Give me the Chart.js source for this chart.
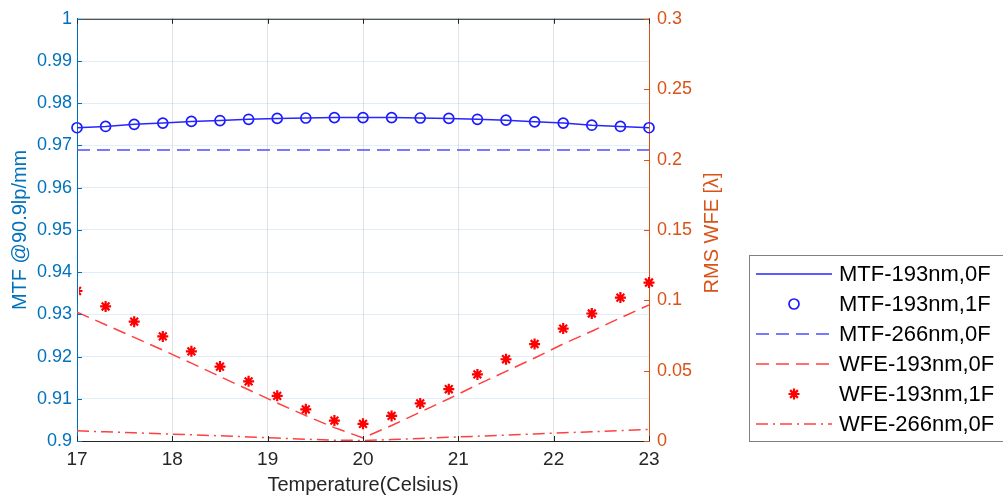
<!DOCTYPE html>
<html>
<head>
<meta charset="utf-8">
<script src="https://cdn.jsdelivr.net/npm/chart.js@4"></script>
<style>
  html, body { margin: 0; padding: 0; background: #fff; }
  canvas { display: block; }
</style>
</head>
<body>
<canvas id="chart" width="1003" height="497"></canvas>
<script>
// temperature samples (Celsius)
const temps = [17.0, 17.3, 17.6, 17.9, 18.2, 18.5, 18.8, 19.1, 19.4, 19.7, 20.0,
               20.3, 20.6, 20.9, 21.2, 21.5, 21.8, 22.1, 22.4, 22.7, 23.0];

// left axis: MTF @90.9lp/mm
const mtf193_0F = [0.9742, 0.9745, 0.9750, 0.9753, 0.9757, 0.9759, 0.9762, 0.9764, 0.9765, 0.9766, 0.9766,
                   0.9766, 0.9765, 0.9764, 0.9762, 0.9760, 0.9756, 0.9753, 0.9748, 0.9745, 0.9742];
const mtf193_1F = [0.9742, 0.9745, 0.9750, 0.9753, 0.9757, 0.9759, 0.9762, 0.9764, 0.9765, 0.9766, 0.9766,
                   0.9766, 0.9765, 0.9764, 0.9762, 0.9760, 0.9756, 0.9753, 0.9748, 0.9745, 0.9742];
const mtf266_0F = [0.9689, 0.9689, 0.9689, 0.9689, 0.9689, 0.9689, 0.9689, 0.9689, 0.9689, 0.9689, 0.9689,
                   0.9689, 0.9689, 0.9689, 0.9689, 0.9689, 0.9689, 0.9689, 0.9689, 0.9689, 0.9689];

// right axis: RMS WFE [λ]
const wfe193_0F = [0.0916, 0.0826, 0.0736, 0.0646, 0.0553, 0.0458, 0.0364, 0.0270, 0.0180, 0.0095, 0.0022,
                   0.0110, 0.0205, 0.0300, 0.0400, 0.0495, 0.0590, 0.0690, 0.0780, 0.0875, 0.0967];
const wfe193_1F = [0.1066, 0.0956, 0.0848, 0.0743, 0.0637, 0.0529, 0.0424, 0.0321, 0.0225, 0.0145, 0.0122,
                   0.0178, 0.0267, 0.0368, 0.0473, 0.0581, 0.0689, 0.0799, 0.0906, 0.1019, 0.1126];
const wfe266_0F = [0.0072, 0.0065, 0.0058, 0.0051, 0.0044, 0.0037, 0.0029, 0.0021, 0.0013, 0.0006, 0.0004,
                   0.0010, 0.0018, 0.0026, 0.0034, 0.0042, 0.0050, 0.0058, 0.0066, 0.0074, 0.0082];

const xTicks = [17, 18, 19, 20, 21, 22, 23];

const BLUE_AX = '#0072BD';
const ORANGE_AX = '#D95319';
const DARK = '#262626';
const FONT = '"Liberation Sans", Arial, sans-serif';

Chart.defaults.font.family = FONT;

const pts = ys => temps.map((t, i) => ({ x: t, y: ys[i] }));

// MATLAB style ticks point into the plot, plus the top box line
const innerTicks = {
  id: 'innerTicks',
  afterDatasetsDraw(chart) {
    const { ctx, chartArea: a, scales } = chart;
    ctx.save();
    ctx.lineWidth = 1;
    ctx.strokeStyle = DARK;
    ctx.beginPath();
    ctx.moveTo(a.left, a.top + 0.5);
    ctx.lineTo(a.right, a.top + 0.5);
    scales.x.ticks.forEach(t => {
      const px = Math.round(scales.x.getPixelForValue(t.value)) + 0.5;
      ctx.moveTo(px, a.bottom); ctx.lineTo(px, a.bottom - 5);
      ctx.moveTo(px, a.top); ctx.lineTo(px, a.top + 5);
    });
    ctx.stroke();

    ctx.strokeStyle = BLUE_AX;
    ctx.beginPath();
    scales.y.ticks.forEach(t => {
      const py = Math.round(scales.y.getPixelForValue(t.value)) + 0.5;
      ctx.moveTo(a.left, py); ctx.lineTo(a.left + 5, py);
    });
    ctx.stroke();

    ctx.strokeStyle = ORANGE_AX;
    ctx.beginPath();
    scales.y2.ticks.forEach(t => {
      const py = Math.round(scales.y2.getPixelForValue(t.value)) + 0.5;
      ctx.moveTo(a.right, py); ctx.lineTo(a.right - 5, py);
    });
    ctx.stroke();
    ctx.restore();
  }
};

// right axis title reads bottom-to-top like MATLAB's yyaxis right label
const rightTitle = {
  id: 'rightTitle',
  afterDraw(chart) {
    const { ctx, chartArea: a } = chart;
    ctx.save();
    ctx.translate(712, (a.top + a.bottom) / 2 + 3);
    ctx.rotate(-Math.PI / 2);
    ctx.fillStyle = ORANGE_AX;
    ctx.font = '20px ' + FONT;
    ctx.textAlign = 'center';
    ctx.textBaseline = 'middle';
    ctx.fillText('RMS WFE [λ]', 0, 0);
    ctx.restore();
  }
};

function drawMarker(ctx, style, x, y, r) {
  ctx.beginPath();
  if (style === 'circle') {
    ctx.arc(x, y, r, 0, Math.PI * 2);
  } else {
    const d = r * Math.SQRT1_2;
    ctx.moveTo(x - r, y); ctx.lineTo(x + r, y);
    ctx.moveTo(x, y - r); ctx.lineTo(x, y + r);
    ctx.moveTo(x - d, y - d); ctx.lineTo(x + d, y + d);
    ctx.moveTo(x - d, y + d); ctx.lineTo(x + d, y - d);
  }
  ctx.stroke();
}

const legendBox = {
  id: 'legendBox',
  afterDraw(chart) {
    const { ctx } = chart;
    ctx.save();
    ctx.fillStyle = '#fff';
    ctx.fillRect(749.5, 255.5, 262, 186);
    ctx.strokeStyle = '#808080';
    ctx.lineWidth = 1;
    ctx.strokeRect(749.5, 255.5, 262, 186);
    chart.data.datasets.forEach((ds, i) => {
      const y = 274 + i * 30;
      if (ds.showLine !== false) {
        ctx.strokeStyle = ds.borderColor;
        ctx.lineWidth = ds.borderWidth;
        ctx.setLineDash(ds.borderDash || []);
        ctx.beginPath();
        ctx.moveTo(756, y);
        ctx.lineTo(832, y);
        ctx.stroke();
        ctx.setLineDash([]);
      }
      if (ds.pointRadius > 0) {
        ctx.strokeStyle = ds.pointBorderColor;
        ctx.lineWidth = ds.pointBorderWidth;
        drawMarker(ctx, ds.pointStyle, 794, y, ds.pointRadius);
      }
      ctx.fillStyle = '#000';
      ctx.font = '22px ' + FONT;
      ctx.textBaseline = 'middle';
      ctx.fillText(ds.label, 839, y + 1);
    });
    ctx.restore();
  }
};

new Chart(document.getElementById('chart'), {
  type: 'line',
  data: {
    datasets: [
      {
        label: 'MTF-193nm,0F', data: pts(mtf193_0F), yAxisID: 'y',
        borderColor: '#2626ff', borderWidth: 1.5, pointRadius: 0
      },
      {
        label: 'MTF-193nm,1F', data: pts(mtf193_1F), yAxisID: 'y', showLine: false,
        borderColor: '#1a1aff', pointStyle: 'circle', pointRadius: 5,
        pointBorderColor: '#1a1aff', pointBackgroundColor: 'rgba(0,0,0,0)', pointBorderWidth: 1.7,
        clip: false
      },
      {
        label: 'MTF-266nm,0F', data: pts(mtf266_0F), yAxisID: 'y',
        borderColor: '#4d4dff', borderWidth: 1.5, borderDash: [13, 7], pointRadius: 0
      },
      {
        label: 'WFE-193nm,0F', data: pts(wfe193_0F), yAxisID: 'y2',
        borderColor: '#ff4040', borderWidth: 1.5, borderDash: [13, 7], pointRadius: 0
      },
      {
        label: 'WFE-193nm,1F', data: pts(wfe193_1F), yAxisID: 'y2', showLine: false,
        borderColor: '#ff0000', pointStyle: 'star', pointRadius: 5.5,
        pointBorderColor: '#ff0000', pointBackgroundColor: '#ff0000', pointBorderWidth: 2.2,
        clip: { left: -2, right: false, top: false, bottom: false }
      },
      {
        label: 'WFE-266nm,0F', data: pts(wfe266_0F), yAxisID: 'y2',
        borderColor: '#ff4040', borderWidth: 1.5, borderDash: [12, 5, 2, 5], pointRadius: 0
      }
    ]
  },
  options: {
    responsive: false,
    animation: false,
    devicePixelRatio: 1,
    layout: { padding: { left: 0, top: 14, right: 271, bottom: 0 } },
    plugins: {
      legend: { display: false },
      tooltip: { enabled: false }
    },
    scales: {
      x: {
        type: 'linear', min: 17, max: 23,
        afterBuildTicks: s => { s.ticks = xTicks.map(v => ({ value: v })); },
        afterFit: s => { s.height = 56; },
        ticks: { color: DARK, font: { size: 19 }, padding: 7 },
        grid: { color: 'rgba(38,38,38,0.13)', drawTicks: false },
        border: { color: DARK, width: 1 },
        title: {
          display: true, text: 'Temperature(Celsius)', color: DARK,
          font: { size: 20 }, padding: { top: 0, bottom: 0 }
        }
      },
      y: {
        position: 'left', min: 0.9, max: 1,
        afterFit: s => { s.width = 77; },
        ticks: {
          stepSize: 0.01, color: BLUE_AX, font: { size: 18 }, padding: 5,
          callback: v => String(+v.toFixed(2))
        },
        grid: { color: 'rgba(0,114,189,0.12)', drawTicks: false },
        border: { color: BLUE_AX, width: 1 },
        title: {
          display: true, text: 'MTF @90.9lp/mm', color: BLUE_AX,
          font: { size: 20 }, padding: { top: 8, bottom: 0 }
        }
      },
      y2: {
        position: 'right', min: 0, max: 0.3,
        afterFit: s => { s.width = 83; },
        ticks: {
          stepSize: 0.05, color: ORANGE_AX, font: { size: 18 }, padding: 8,
          callback: v => String(+v.toFixed(2))
        },
        grid: { display: false, drawTicks: false },
        border: { color: ORANGE_AX, width: 1 },
        title: { display: false }
      }
    }
  },
  plugins: [innerTicks, rightTitle, legendBox]
});
</script>
</body>
</html>
